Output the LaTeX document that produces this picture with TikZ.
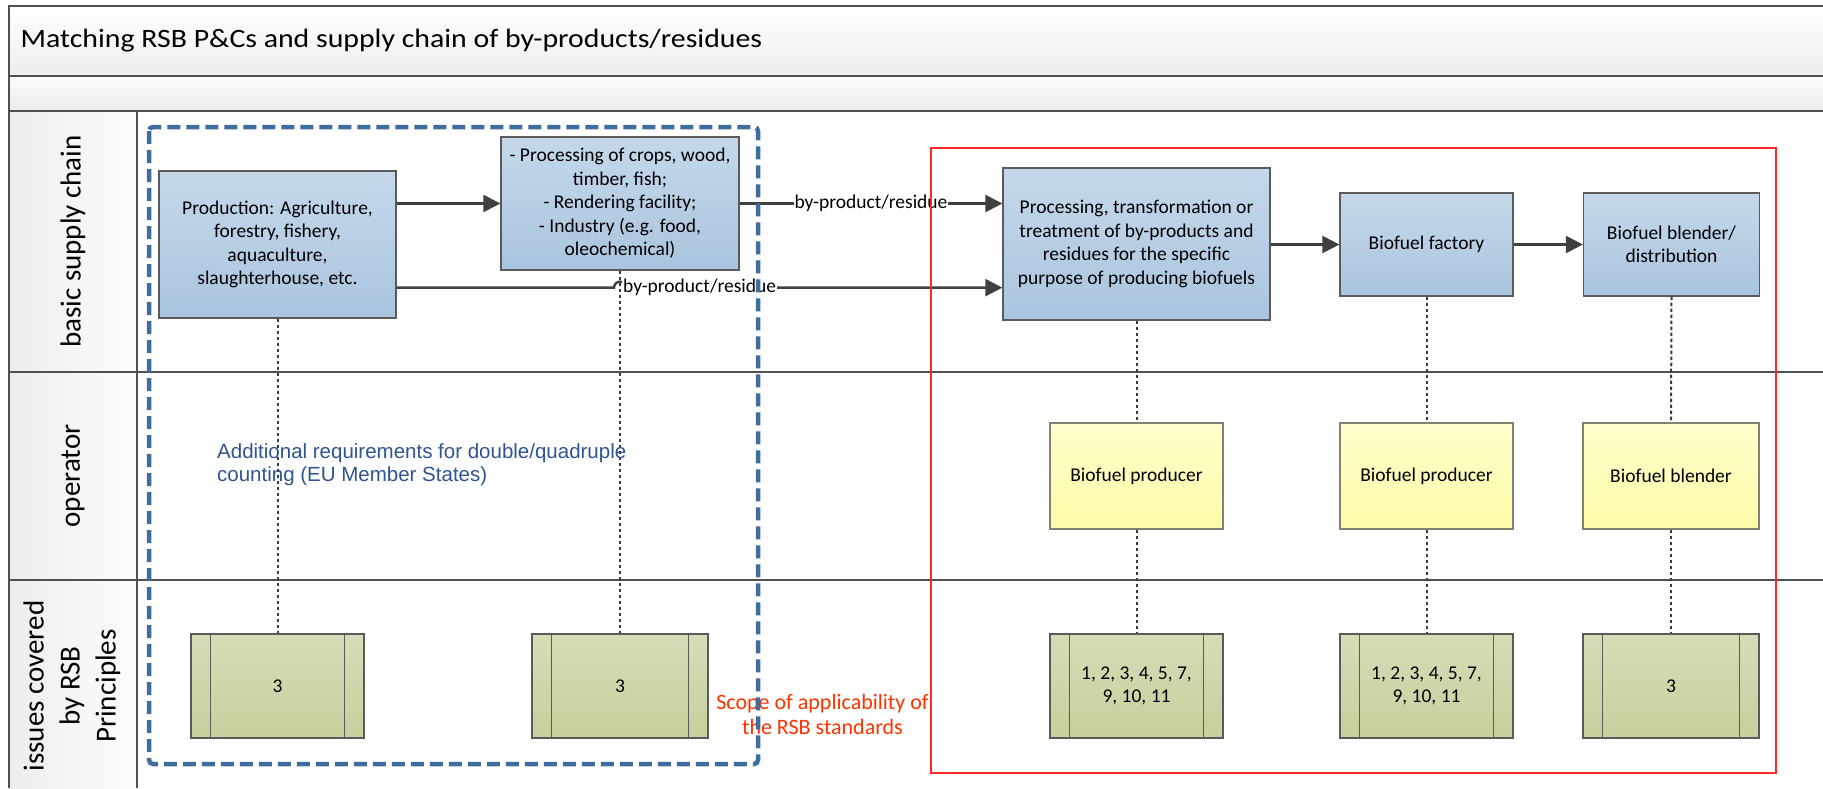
\documentclass[tikz,border=0pt]{standalone}
\usepackage{fontspec}
\setmainfont{Carlito}
\newfontfamily\titlefont[FakeStretch=1.125]{Carlito}
\newfontfamily\arialf{Liberation Sans}
\usetikzlibrary{arrows.meta,calc}
\definecolor{framegray}{RGB}{80,80,80}
\definecolor{boxborder}{RGB}{90,90,90}
\definecolor{arrowgray}{RGB}{64,64,64}
\definecolor{bluetop}{RGB}{197,216,234}
\definecolor{bluebot}{RGB}{169,197,223}
\definecolor{yeltop}{RGB}{255,255,204}
\definecolor{yelbot}{RGB}{252,251,168}
\definecolor{yelborder}{RGB}{130,130,110}
\definecolor{greentop}{RGB}{213,221,183}
\definecolor{greenbot}{RGB}{198,208,156}
\definecolor{scopeblue}{RGB}{63,109,158}
\definecolor{textblue}{RGB}{47,85,145}
\definecolor{scopered}{RGB}{255,40,40}
\definecolor{textred}{RGB}{255,51,0}
\definecolor{dotgray}{RGB}{60,60,60}
\begin{document}
\begin{tikzpicture}[x=1pt,y=-1pt,
  boxfont/.style={font=\fontsize{19.5}{23.5}\selectfont},
  bluebox/.style={draw=boxborder, line width=1.3pt, top color=bluetop, bottom color=bluebot,
    boxfont, align=center, inner sep=0pt},
  yelbox/.style={draw=yelborder, line width=1.3pt, top color=yeltop, bottom color=yelbot,
    boxfont, align=center, inner sep=0pt, minimum height=106pt},
  greenbox/.style={draw=boxborder, line width=1.3pt, top color=greentop, bottom color=greenbot,
    boxfont, align=center, inner sep=0pt, minimum height=104pt},
  innerline/.style={draw=boxborder, line width=0.8pt},
  conn/.style={draw=arrowgray, line width=2.4pt, -{Triangle[length=17pt,width=17pt]}},
  dotline/.style={draw=dotgray, line width=2pt, dash pattern=on 3.5pt off 2.5pt},
  edgelabel/.style={boxfont, fill=white, inner sep=1pt},
  framel/.style={draw=framegray, line width=2.4pt},
  lanelabel/.style={rotate=90, font=\fontsize{29}{36}\selectfont, align=center}
]
\useasboundingbox (0,0) rectangle (1823,788);
\fill[white] (0,0) rectangle (1823,788);
% header bands
\shade[top color=white, bottom color=black!7] (9,6) rectangle (1823,76);
\shade[top color=black!1, bottom color=black!8] (9,76) rectangle (1823,111);
\shade[left color=black!7, right color=black!1] (9,111) rectangle (137,788);
% frame lines
\draw[framel] (1823,6) -- (9,6) -- (9,788);
\draw[framel] (9,76) -- (1823,76);
\draw[framel] (9,111) -- (1823,111);
\draw[framel] (9,372) -- (1823,372);
\draw[framel] (9,580) -- (1823,580);
\draw[framel] (137,111) -- (137,788);
% title and lane labels
\node[anchor=base west, inner sep=0pt, font=\titlefont\fontsize{26.5}{31}\selectfont] (title) at (20.5,47)
  {Matching RSB P\&Cs and supply chain of by-products/residues};
\node[lanelabel] (lane1) at (73,241.5) {basic supply chain};
\node[lanelabel] (lane2) at (73,476) {operator};
\node[lanelabel] (lane3) at (72,686) {issues covered\\by RSB\\Principles};
% supply chain boxes
\node[bluebox, minimum width=237pt, minimum height=147pt] (prod) at (277.5,244.5)
  {Production: Agriculture,\\forestry, fishery,\\aquaculture,\\slaughterhouse, etc.};
\node[bluebox, minimum width=238pt, minimum height=133pt] (proc) at (620,203.5)
  {- Processing of crops, wood,\\timber, fish;\\- Rendering facility;\\- Industry (e.g. food,\\oleochemical)};
\node[bluebox, minimum width=267pt, minimum height=152pt] (treat) at (1136.5,244)
  {Processing, transformation or\\treatment of by-products and\\residues for the specific\\purpose of producing biofuels};
\node[bluebox, minimum width=173pt, minimum height=103pt] (fact) at (1426.5,244.5) {Biofuel factory};
\node[bluebox, minimum width=176pt, minimum height=103pt] (blend) at (1671.5,244.5) {Biofuel blender/\\distribution};
% operator boxes
\node[yelbox, minimum width=173pt] (op1) at (1136.5,476) {Biofuel producer};
\node[yelbox, minimum width=173pt] (op2) at (1426.5,476) {Biofuel producer};
\node[yelbox, minimum width=176pt] (op3) at (1671,476) {Biofuel blender};
% principle boxes
\node[greenbox, minimum width=173pt] (gA) at (277.5,686) {3};
\node[greenbox, minimum width=176pt] (gB) at (620,686) {3};
\node[greenbox, minimum width=173pt] (g3) at (1136.5,686) {1, 2, 3, 4, 5, 7,\\9, 10, 11};
\node[greenbox, minimum width=173pt] (g4) at (1426.5,686) {1, 2, 3, 4, 5, 7,\\9, 10, 11};
\node[greenbox, minimum width=176pt] (g5) at (1671,686) {3};
\foreach \n in {gA,gB,g3,g4,g5}{
  \draw[innerline] ([xshift=20pt]\n.north west) -- ([xshift=20pt]\n.south west);
  \draw[innerline] ([xshift=-20pt]\n.north east) -- ([xshift=-20pt]\n.south east);
}
% dotted links
\draw[dotline] (prod.south) -- (gA.north);
\draw[dotline] (proc.south) -- (gB.north);
\draw[dotline] (treat.south) -- (op1.north);
\draw[dotline] (op1.south) -- (g3.north);
\draw[dotline] (fact.south) -- (op2.north);
\draw[dotline] (op2.south) -- (g4.north);
\draw[dotline] (blend.south) -- (op3.north);
\draw[dotline] (op3.south) -- (g5.north);
% flow arrows
\draw[conn] (prod.east |- proc.west) -- (proc.west);
\draw[conn] (proc.east) -- (treat.west |- proc.east);
\node[edgelabel] (lab1) at ($(proc.east)!0.5!(treat.west |- proc.east)$) {by-product/residue};
\coordinate (h0) at ([yshift=31pt]prod.south east);
\coordinate (hx) at (proc.south |- h0);
\draw[conn] (h0) -- ([xshift=-6pt]hx) arc[start angle=180, end angle=360, radius=6] -- (treat.west |- h0);
\node[edgelabel, anchor=west] (lab2) at ([xshift=2pt]hx) {by-product/residue};
\draw[conn] (treat.east |- fact.west) -- (fact.west);
\draw[conn] (fact.east) -- (blend.west);
% annotations
\node[anchor=west, align=left, inner sep=0pt, text=textblue, font=\arialf\fontsize{20.5}{23}\selectfont] (addreq) at (217,464.5)
  {Additional requirements for double/quadruple\\counting (EU Member States)};
\node[align=center, text=textred, font=\fontsize{22}{25}\selectfont] (scope) at (822.5,714.5)
  {Scope of applicability of\\the RSB standards};
% scope frames
\draw[scopered, line width=1.1pt] (931,148) rectangle (1776,773);
\draw[scopeblue, line width=4.5pt, dash pattern=on 13pt off 6pt, rounded corners=4pt] (149,127) rectangle (758,764);
\end{tikzpicture}
\end{document}
